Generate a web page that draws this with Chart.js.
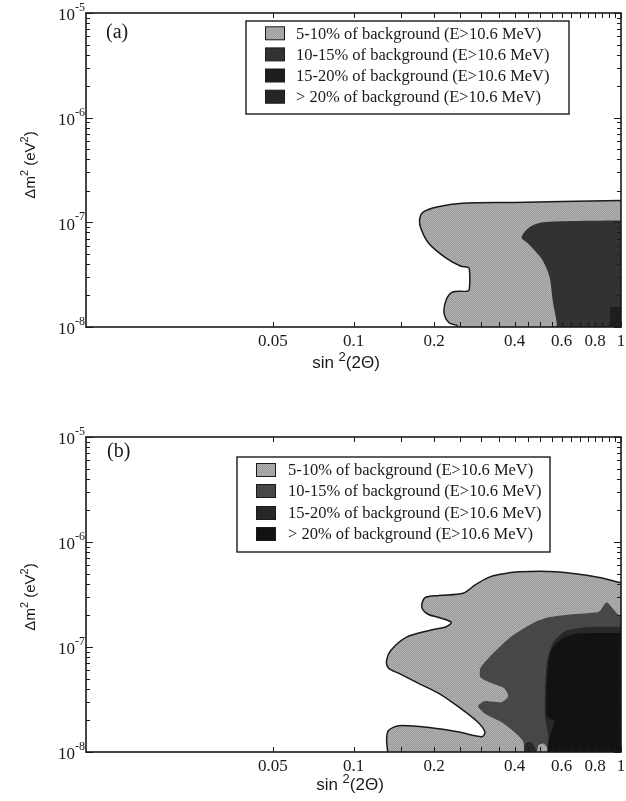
<!DOCTYPE html>
<html>
<head>
<meta charset="utf-8">
<script src="https://cdn.jsdelivr.net/npm/chart.js@4.4.1/dist/chart.umd.min.js"></script>
<style>
  html, body { margin: 0; padding: 0; background: #fff; }
  #wrap { position: relative; width: 626px; height: 801px; overflow: hidden; }
  canvas { position: absolute; left: 0; }
</style>
</head>
<body>
<div id="wrap">
  <canvas id="panelA" width="626" height="410" style="top:0px"></canvas>
  <canvas id="panelB" width="626" height="391" style="top:410px"></canvas>
</div>
<script>
// ---- legend texts ----
const levelLabels = [
  '5-10% of background (E>10.6 MeV)',
  '10-15% of background (E>10.6 MeV)',
  '15-20% of background (E>10.6 MeV)',
  '> 20% of background (E>10.6 MeV)'
];

// ---- axis ticks ----
const xTickValues = [0.05, 0.1, 0.2, 0.4, 0.6, 0.8, 1];
const xTickLabels = ['0.05', '0.1', '0.2', '0.4', '0.6', '0.8', '1'];
const xMinorTicks = [0.05, 0.1, 0.15, 0.2, 0.25, 0.3, 0.35, 0.4, 0.45, 0.5,
                     0.55, 0.6, 0.65, 0.7, 0.75, 0.8, 0.85, 0.9, 0.95, 1.0];
const yDecades = [-8, -7, -6, -5];
const yMinorSteps = [2, 3, 4, 5, 6, 7, 8, 9];

// ---- panel (a) contours: sin^2(2θ) and Δm^2 (eV^2) ----
const a1X = [1.5, 1, 0.6, 0.4, 0.255, 0.205, 0.182, 0.177, 0.178, 0.191, 0.222, 0.252, 0.266, 0.271, 0.271, 0.266, 0.234, 0.222, 0.218, 0.228, 0.245, 0.25, 1.5, 1.5];
const a1Y = [1.62e-7, 1.62e-7, 1.58e-7, 1.55e-7, 1.52e-7, 1.40e-7, 1.25e-7, 1.10e-7, 8.96e-8, 6.3e-8, 4.54e-8, 3.81e-8, 3.74e-8, 3.62e-8, 2.28e-8, 2.2e-8, 2.15e-8, 1.81e-8, 1.36e-8, 1.09e-8, 1.02e-8, 7e-9, 7e-9, 1.62e-7];

const a2X = [1.5, 1, 0.7, 0.51, 0.455, 0.425, 0.445, 0.467, 0.509, 0.541, 0.555, 0.575, 0.58, 1.5, 1.5];
const a2Y = [1.04e-7, 1.04e-7, 1.03e-7, 1.0e-7, 8.96e-8, 7.2e-8, 6.4e-8, 5.65e-8, 4.35e-8, 2.99e-8, 1.81e-8, 1.09e-8, 7e-9, 7e-9, 1.04e-7];

const a3X = [0.91, 0.91, 1.5, 1.5, 0.91];
const a3Y = [7e-9, 1.55e-8, 1.55e-8, 7e-9, 7e-9];

// ---- panel (b) contours ----
const b1X = [1.5, 1, 0.83, 0.57, 0.42, 0.35, 0.32, 0.285, 0.257, 0.209, 0.185, 0.18, 0.19, 0.21, 0.232, 0.222, 0.195, 0.158, 0.138, 0.133, 0.135, 0.148, 0.175, 0.209, 0.248, 0.29, 0.31, 0.302, 0.248, 0.195, 0.148, 0.135, 0.133, 0.134, 0.136, 1.5, 1.5];
const b1Y = [4.0e-7, 4.1e-7, 4.6e-7, 5.2e-7, 5.2e-7, 4.9e-7, 4.6e-7, 3.9e-7, 3.25e-7, 3.1e-7, 2.95e-7, 2.4e-7, 2.05e-7, 1.9e-7, 1.72e-7, 1.56e-7, 1.45e-7, 1.24e-7, 9.3e-8, 7.5e-8, 6.3e-8, 5.6e-8, 4.5e-8, 3.6e-8, 2.67e-8, 1.95e-8, 1.55e-8, 1.4e-8, 1.55e-8, 1.7e-8, 1.78e-8, 1.6e-8, 1.3e-8, 1.05e-8, 7e-9, 7e-9, 4.0e-7];

const b2X = [1.5, 1, 0.886, 0.84, 0.819, 0.643, 0.532, 0.475, 0.389, 0.327, 0.298, 0.298, 0.322, 0.366, 0.379, 0.357, 0.308, 0.292, 0.311, 0.357, 0.399, 0.432, 0.436, 0.48, 0.49, 0.515, 0.535, 0.54, 1.5, 1.5];
const b2Y = [1.95e-7, 1.95e-7, 2.66e-7, 2.25e-7, 2.14e-7, 2.04e-7, 1.91e-7, 1.72e-7, 1.26e-7, 8.34e-8, 6.28e-8, 5.16e-8, 4.62e-8, 4.05e-8, 3.4e-8, 2.98e-8, 3.05e-8, 2.73e-8, 2.3e-8, 1.93e-8, 1.55e-8, 1.24e-8, 7e-9, 7e-9, 1.15e-8, 1.2e-8, 1.05e-8, 7e-9, 7e-9, 1.95e-7];

const b3X = [1.5, 0.75, 0.62, 0.56, 0.53, 0.52, 0.52, 0.535, 0.54, 1.5, 1.5, null, 0.436, 0.436, 0.45, 0.468, 0.48, 0.482, 0.436];
const b3Y = [1.55e-7, 1.55e-7, 1.42e-7, 1.12e-7, 7.5e-8, 4e-8, 2.2e-8, 1.4e-8, 7e-9, 7e-9, 1.55e-7, null, 7e-9, 1.15e-8, 1.25e-8, 1.2e-8, 1.05e-8, 7e-9, 7e-9];

const b4X = [1.5, 0.701, 0.6, 0.55, 0.535, 0.527, 0.527, 0.545, 0.565, 0.546, 0.534, 0.532, 1.5, 1.5];
const b4Y = [1.35e-7, 1.35e-7, 1.2e-7, 9.5e-8, 7e-8, 3.9e-8, 2.25e-8, 2.05e-8, 1.97e-8, 1.51e-8, 1.15e-8, 7e-9, 7e-9, 1.35e-7];

// ---- styling ----
const SERIF = '"Liberation Serif", "Times New Roman", serif';
const SANS = '"Liberation Sans", Arial, sans-serif';
const INK = '#1a1a1a';

// stippled light-gray fill
function makeStipple() {
  const c = document.createElement('canvas');
  c.width = 4; c.height = 4;
  const g = c.getContext('2d');
  const shades = [170, 152, 178, 160, 162, 182, 154, 172, 176, 158, 168, 150, 156, 172, 162, 180];
  shades.forEach((s, i) => {
    g.fillStyle = `rgb(${s},${s},${s})`;
    g.fillRect(i % 4, Math.floor(i / 4), 1, 1);
  });
  return g.createPattern(c, 'repeat');
}
const stipple = makeStipple();

function toPoints(xs, ys) {
  return xs.map((x, i) => (x === null ? { x: null, y: null } : { x: x, y: ys[i] }));
}

function region(level, xs, ys, color, opts) {
  return Object.assign({
    label: levelLabels[level],
    data: toPoints(xs, ys),
    showLine: true,
    fill: 'shape',
    backgroundColor: color,
    borderColor: INK,
    borderWidth: 0,
    pointRadius: 0,
    pointHoverRadius: 0,
    tension: 0.3,
    order: 4 - level
  }, opts || {});
}

function drawRuns(ctx, runs, x, y) {
  let cx = x;
  runs.forEach(r => {
    ctx.font = r.font;
    ctx.fillText(r.t, cx, y + (r.dy || 0));
    cx += ctx.measureText(r.t).width;
  });
}
function runsWidth(ctx, runs) {
  let w = 0;
  runs.forEach(r => { ctx.font = r.font; w += ctx.measureText(r.t).width; });
  return w;
}

// frame, inward ticks, tick labels, axis titles, panel tag and legend box
const panelDecor = {
  id: 'panelDecor',
  afterDraw(chart, args, o) {
    const { ctx, chartArea: ca } = chart;
    const xs = chart.scales.x, ys = chart.scales.y;
    ctx.save();

    // ticks
    ctx.strokeStyle = INK;
    ctx.lineWidth = 1;
    ctx.beginPath();
    xMinorTicks.forEach(v => {
      const px = Math.round(xs.getPixelForValue(v)) + 0.5;
      ctx.moveTo(px, ca.bottom); ctx.lineTo(px, ca.bottom - 5);
      ctx.moveTo(px, ca.top); ctx.lineTo(px, ca.top + 5);
    });
    yDecades.forEach(d => {
      const py = Math.round(ys.getPixelForValue(Math.pow(10, d))) + 0.5;
      ctx.moveTo(ca.left, py); ctx.lineTo(ca.left + 7, py);
      ctx.moveTo(ca.right, py); ctx.lineTo(ca.right - 7, py);
      if (d < -5) {
        yMinorSteps.forEach(m => {
          const qy = Math.round(ys.getPixelForValue(m * Math.pow(10, d))) + 0.5;
          ctx.moveTo(ca.left, qy); ctx.lineTo(ca.left + 4, qy);
          ctx.moveTo(ca.right, qy); ctx.lineTo(ca.right - 4, qy);
        });
      }
    });
    ctx.stroke();

    // frame
    ctx.lineWidth = 1.6;
    ctx.strokeRect(ca.left, ca.top, ca.right - ca.left, ca.bottom - ca.top);

    ctx.fillStyle = INK;
    ctx.textBaseline = 'middle';

    // x tick labels
    ctx.textAlign = 'center';
    ctx.font = '17px ' + SERIF;
    xTickValues.forEach((v, i) => {
      ctx.fillText(xTickLabels[i], xs.getPixelForValue(v), ca.bottom + 15);
    });

    // y tick labels (10 with superscript exponent)
    ctx.textAlign = 'left';
    yDecades.forEach(d => {
      const py = ys.getPixelForValue(Math.pow(10, d));
      const runs = [
        { t: '10', font: '17px ' + SERIF },
        { t: String(d), font: '12px ' + SERIF, dy: -8 }
      ];
      const w = runsWidth(ctx, runs);
      drawRuns(ctx, runs, ca.left - 1 - w, py + 3);
    });

    // x title
    const xt = [
      { t: 'sin ', font: '17px ' + SANS },
      { t: '2', font: '13px ' + SANS, dy: -6 },
      { t: '(2\u0398)', font: '17px ' + SANS }
    ];
    drawRuns(ctx, xt, o.xTitleX - runsWidth(ctx, xt) / 2, o.xTitleY);

    // y title
    const yt = [
      { t: '\u0394m', font: '15px ' + SANS },
      { t: '2', font: '11px ' + SANS, dy: -6 },
      { t: ' (eV', font: '15px ' + SANS },
      { t: '2', font: '11px ' + SANS, dy: -6 },
      { t: ')', font: '15px ' + SANS }
    ];
    ctx.save();
    ctx.translate(o.yTitleX, o.yTitleY);
    ctx.rotate(-Math.PI / 2);
    drawRuns(ctx, yt, -runsWidth(ctx, yt) / 2, 0);
    ctx.restore();

    // panel tag
    ctx.font = '20px ' + SERIF;
    ctx.fillText(o.tag, o.tagX, o.tagY);

    // legend box
    const L = o.legend;
    ctx.fillStyle = '#fff';
    ctx.fillRect(L.left, L.top, L.right - L.left, L.bottom - L.top);
    ctx.lineWidth = 1.4;
    ctx.strokeStyle = INK;
    ctx.strokeRect(L.left, L.top, L.right - L.left, L.bottom - L.top);
    L.rows.forEach((ry, i) => {
      ctx.fillStyle = o.palette[i];
      ctx.fillRect(L.swatchX, ry - 6.5, 20, 13);
      ctx.lineWidth = 1;
      ctx.strokeRect(L.swatchX + 0.5, ry - 6.5, 19, 13);
      ctx.fillStyle = INK;
      ctx.font = '16.5px ' + SERIF;
      ctx.fillText(levelLabels[i], L.textX, ry + 1);
    });

    ctx.restore();
  }
};

function buildPanel(id, datasets, padTop, padBottom, decor) {
  return new Chart(document.getElementById(id), {
    type: 'scatter',
    data: { datasets: datasets },
    options: {
      responsive: false,
      animation: false,
      events: [],
      layout: { padding: { left: 86, right: 5, top: padTop, bottom: padBottom } },
      elements: { line: { capBezierPoints: false } },
      scales: {
        x: { type: 'logarithmic', min: 0.01, max: 1, display: false },
        y: { type: 'logarithmic', min: 1e-8, max: 1e-5, display: false }
      },
      plugins: {
        legend: { display: false },
        tooltip: { enabled: false },
        panelDecor: decor
      }
    },
    plugins: [panelDecor]
  });
}

// ---- panel (a) ----
const paletteA = [stipple, '#323232', '#1e1e1e', '#262626'];
buildPanel('panelA', [
  region(0, a1X, a1Y, paletteA[0], { borderWidth: 1.5 }),
  region(1, a2X, a2Y, paletteA[1]),
  region(2, a3X, a3Y, paletteA[2], { tension: 0 })
], 13, 83, {
  tag: '(a)', tagX: 106, tagY: 33,
  xTitleX: 346, xTitleY: 363,
  yTitleX: 31, yTitleY: 165,
  palette: paletteA,
  legend: { left: 246, top: 21, right: 569, bottom: 114, swatchX: 265, textX: 296, rows: [33.3, 54.4, 75.5, 96.7] }
});

// ---- panel (b) ----
const paletteB = [stipple, '#474747', '#282828', '#121212'];
buildPanel('panelB', [
  region(0, b1X, b1Y, paletteB[0], { borderWidth: 1.5 }),
  region(1, b2X, b2Y, paletteB[1], { tension: 0.2 }),
  region(2, b3X, b3Y, paletteB[2], { tension: 0.2 }),
  region(3, b4X, b4Y, paletteB[3], { tension: 0.2 })
], 27, 49, {
  tag: '(b)', tagX: 107, tagY: 42,
  xTitleX: 350, xTitleY: 375,
  yTitleX: 31, yTitleY: 187,
  palette: paletteB,
  legend: { left: 237, top: 47, right: 550, bottom: 142, swatchX: 256, textX: 288, rows: [60, 81, 103, 124] }
});
</script>
</body>
</html>
